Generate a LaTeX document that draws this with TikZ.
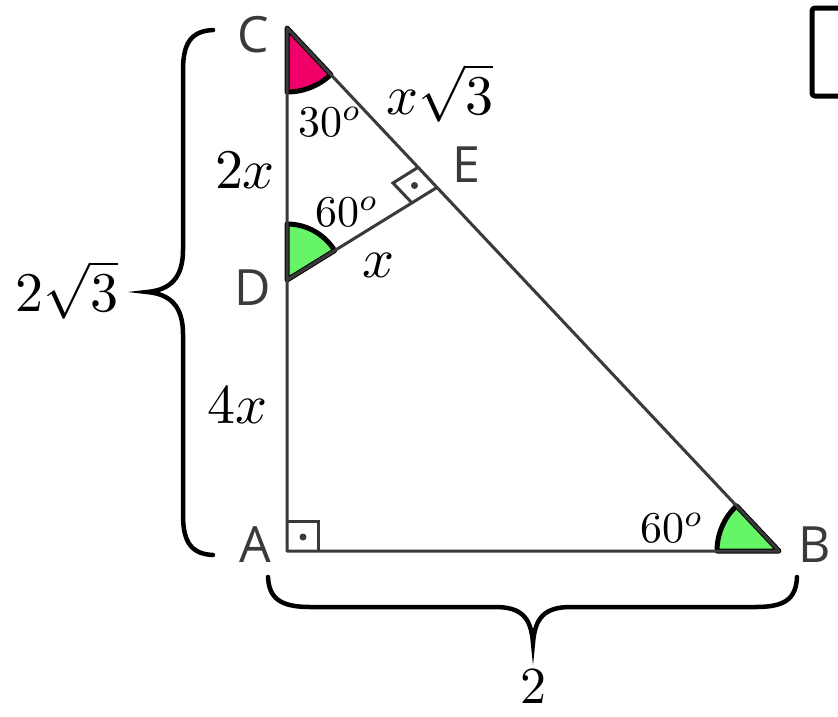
\documentclass[tikz,border=0pt]{standalone}
\usepackage{graphicx}
\usepackage{fontspec}
\newfontfamily\lblfont{Open Sans}
\usetikzlibrary{calc}
\definecolor{linegray}{HTML}{3A3A3A}
\definecolor{pinkfill}{HTML}{F2006A}
\definecolor{greenfill}{HTML}{66F566}
\newcommand{\mylenmath}[1]{\scalebox{5.6}{$#1$}}
\newcommand{\myangmath}[1]{\scalebox{4.4}{$#1$}}
\begin{document}
\begin{tikzpicture}[x=1pt,y=-1pt,
  tri/.style={draw=linegray,line width=3pt,line join=round},
  sector/.style={draw=black,line width=5pt,line join=round},
  bracepath/.style={draw=black,line width=4.5pt,line cap=round},
  vlabel/.style={font=\lblfont\fontsize{50}{56}\selectfont,text=linegray,inner sep=0pt},
  mlabel/.style={font=\fontsize{10}{12}\selectfont,inner sep=0pt}]
\useasboundingbox (0,0) rectangle (838,716);
\clip (0,0) rectangle (838,716);
\fill[white] (0,0) rectangle (838,716);
% vertices
\coordinate (A) at (287,551);
\coordinate (B) at (779,551);
\coordinate (C) at (287,28);
\coordinate (D) at (287,280);
\coordinate (E) at (436,188);
% angle sectors
\path[sector,fill=pinkfill] (C) -- +(90:64) arc[start angle=90,end angle=46.75,radius=64] -- cycle;
\path[sector,fill=greenfill] (D) -- +(-90:56) arc[start angle=-90,end angle=-31.7,radius=56] -- cycle;
\path[sector,fill=greenfill] (B) -- +(180:62) arc[start angle=180,end angle=226.75,radius=62] -- cycle;
% triangle
\draw[tri] (A) -- (B) -- (C) -- cycle;
\draw[tri] (D) -- (E);
% right angle marks
\draw[draw=linegray,line width=3pt] (287,521) -- (318,521) -- (318,551);
\fill[linegray] (303,537) circle (3.5);
\coordinate (E1) at (412,203);
\coordinate (E2) at (417,168);
\coordinate (E3) at (393,183);
\draw[draw=linegray,line width=3pt] (E1) -- (E3) -- (E2);
\fill[linegray] (414.5,185.5) circle (3.5);
% braces
\draw[bracepath] (213,30) .. controls (192,31) and (183,42) .. (183,70) -- (183,250)
  .. controls (183,278) and (170,290) .. (147,292)
  .. controls (170,294) and (183,306) .. (183,334) -- (183,515)
  .. controls (183,543) and (192,554) .. (213,555);
\draw[bracepath] (268,577) .. controls (269,598) and (280,607) .. (310,607) -- (495,607)
  .. controls (522,607) and (531,618) .. (533,643)
  .. controls (535,618) and (544,607) .. (571,607) -- (756,607)
  .. controls (786,607) and (796,598) .. (797,577);
% partial box top right
\draw[black,line width=5pt,rounded corners=3pt] (870,8) -- (812,8) -- (812,96) -- (870,96);
% vertex labels
\node[vlabel] (lC) at (253,35) {C};
\node[vlabel] (lD) at (253,288) {D};
\node[vlabel] (lA) at (255,545) {A};
\node[vlabel] (lB) at (815,545) {B};
\node[vlabel] (lE) at (466,165) {E};
% measures
\node[mlabel] (l2x) at (245,170) {\mylenmath{2x}};
\node[mlabel] (l4x) at (238,405) {\mylenmath{4x}};
\node[mlabel] (lxs) at (440,93) {\mylenmath{x\sqrt{3}}};
\node[mlabel] (lx) at (378,265) {\mylenmath{x}};
\node[mlabel] (l2s) at (67,290) {\mylenmath{2\sqrt{3}}};
\node[mlabel] (l2) at (533,687) {\scalebox{5.2}{$2$}};
\node[mlabel] (a30) at (330,122) {\myangmath{30^{o}}};
\node[mlabel] (a60D) at (347,212) {\myangmath{60^{o}}};
\node[mlabel] (a60B) at (672,528) {\myangmath{60^{o}}};
\end{tikzpicture}
\end{document}
